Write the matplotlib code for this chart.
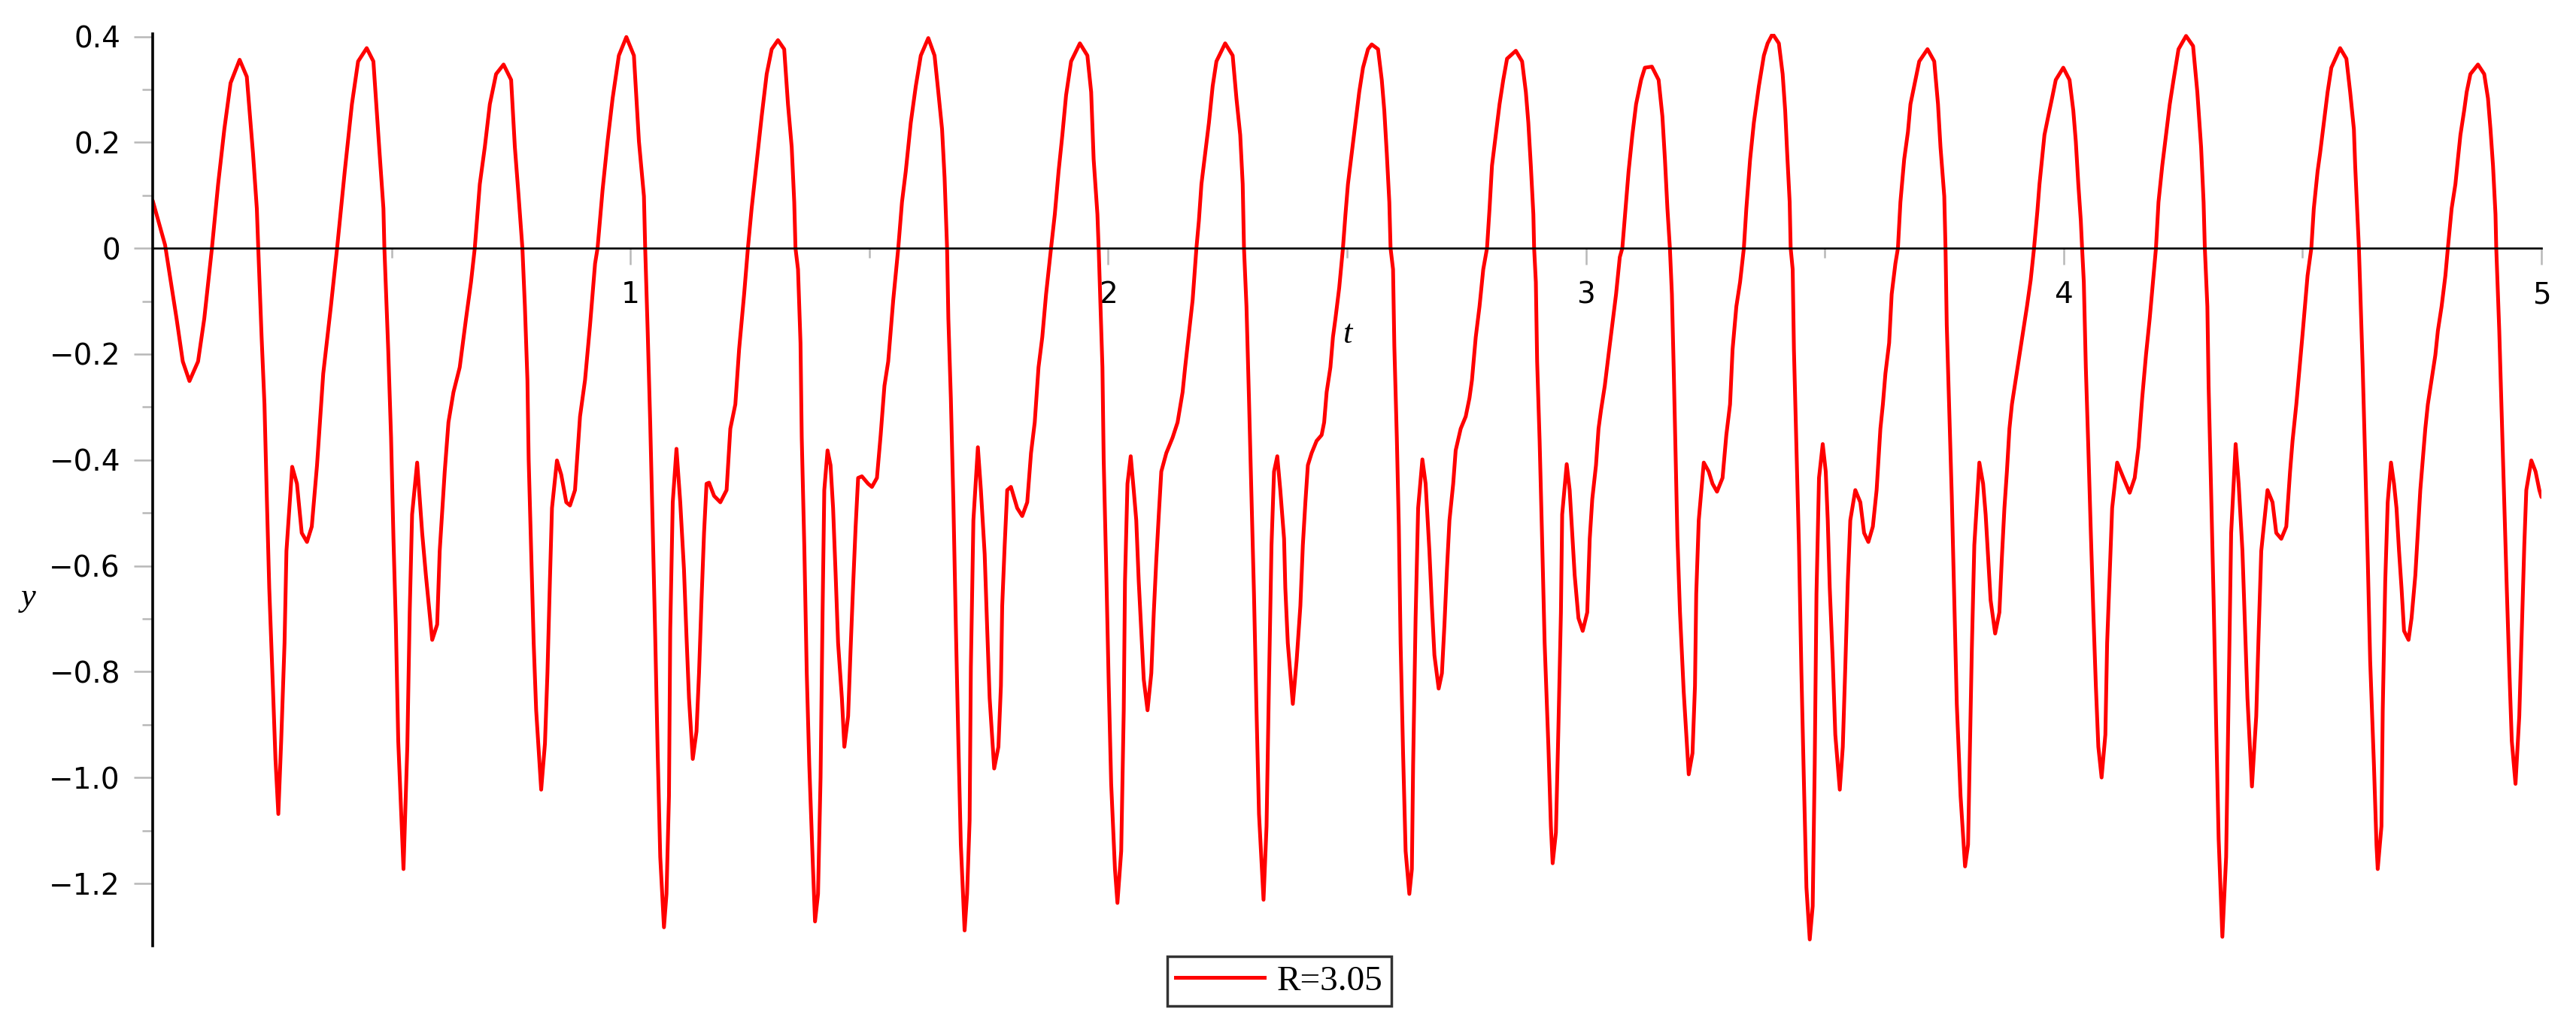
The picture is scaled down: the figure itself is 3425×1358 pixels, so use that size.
import matplotlib
matplotlib.use("Agg")
import matplotlib.pyplot as plt
from matplotlib.lines import Line2D

# ---- data ----
t_values = [
    0.000, 0.026, 0.050, 0.063, 0.077, 0.095, 0.108, 0.124, 0.137, 0.150, 0.163, 0.182, 0.197, 0.210, 0.218, 0.221,
    0.228, 0.234, 0.239, 0.244, 0.252, 0.257, 0.263, 0.269, 0.276, 0.280, 0.292, 0.302, 0.312, 0.323, 0.333, 0.344,
    0.357, 0.373, 0.386, 0.402, 0.417, 0.430, 0.448, 0.462, 0.475, 0.483, 0.485, 0.493, 0.499, 0.504, 0.509, 0.514,
    0.525, 0.533, 0.538, 0.543,
    0.5536, 0.5641, 0.5719, 0.5851, 0.5955, 0.6008, 0.6113, 0.6191, 0.6296, 0.6427, 0.6559, 0.6663, 0.6742, 0.6847,
    0.6952, 0.7057, 0.7188, 0.7345, 0.7503, 0.7581, 0.7660, 0.7739, 0.7791, 0.7844, 0.7870, 0.7922, 0.7975, 0.8027,
    0.8132, 0.8211, 0.8263, 0.8316, 0.8358, 0.8462, 0.8552, 0.8657, 0.8735, 0.8840, 0.8945, 0.9050, 0.9155, 0.9260,
    0.9312, 0.9417, 0.9522, 0.9627, 0.9758, 0.9915, 1.0073, 1.0178, 1.0283, 1.0309, 1.0361, 1.0414, 1.0466, 1.0519,
    1.0571, 1.0624, 1.0702, 1.0755, 1.0807, 1.0833, 1.0886, 1.0964, 1.1043,
    1.1121, 1.1174, 1.1226, 1.1305, 1.1383, 1.1436, 1.1488, 1.1541, 1.1593, 1.1646, 1.1751, 1.1882, 1.2013, 1.2091,
    1.2196, 1.2275, 1.2380, 1.2459, 1.2537, 1.2642, 1.2747, 1.2852, 1.2957, 1.3088, 1.3219, 1.3298, 1.3376, 1.3429,
    1.3455, 1.3508, 1.3560, 1.3586, 1.3639, 1.3691, 1.3744, 1.3822, 1.3864, 1.3927, 1.3980, 1.4022, 1.4058, 1.4126,
    1.4189, 1.4242, 1.4294, 1.4347, 1.4426, 1.4478, 1.4557, 1.4609, 1.4662, 1.4714, 1.4766, 1.4845, 1.4976, 1.5055,
    1.5160, 1.5238, 1.5317, 1.5396, 1.5501, 1.5606, 1.5684, 1.5763, 1.5868, 1.5973, 1.6078, 1.6235, 1.6366, 1.6445,
    1.6523, 1.6576, 1.6628, 1.6655, 1.6707, 1.6760,
    1.6811, 1.6864, 1.6916, 1.6995, 1.7047, 1.7100, 1.7126, 1.7179, 1.7273, 1.7336, 1.7415, 1.7467, 1.7519, 1.7614,
    1.7703, 1.7755, 1.7782, 1.7834, 1.7887, 1.7965, 1.8096, 1.8201, 1.8306, 1.8385, 1.8463, 1.8542, 1.8621, 1.8700,
    1.8804, 1.8883, 1.8962, 1.9041, 1.9119, 1.9224, 1.9408, 1.9565, 1.9644, 1.9696, 1.9775, 1.9801, 1.9827, 1.9880,
    1.9906, 1.9958, 2.0011, 2.0063, 2.0142, 2.0194, 2.0273, 2.0326, 2.0352, 2.0404, 2.0472, 2.0535, 2.0588, 2.0640,
    2.0693, 2.0745, 2.0824, 2.0903, 2.0955, 2.1007, 2.1060, 2.1112, 2.1217, 2.1348, 2.1453, 2.1558, 2.1611, 2.1689,
    2.1768, 2.1847, 2.1899, 2.1952, 2.2030, 2.2109, 2.2187, 2.2266,
    2.2449, 2.2606, 2.2685, 2.2764, 2.2816, 2.2843, 2.2895, 2.2947, 2.3000, 2.3052, 2.3105, 2.3157, 2.3252, 2.3315,
    2.3367, 2.3419, 2.3472, 2.3540, 2.3603, 2.3682, 2.3708, 2.3760, 2.3865, 2.3944, 2.4023, 2.4075, 2.4128, 2.4180,
    2.4259, 2.4363, 2.4468, 2.4521, 2.4573, 2.4652, 2.4705, 2.4757, 2.4836, 2.4914, 2.4967, 2.5019, 2.5098, 2.5177,
    2.5255, 2.5334, 2.5439, 2.5517, 2.5649, 2.5727, 2.5780, 2.5832, 2.5885, 2.5911, 2.5963, 2.5990, 2.6042, 2.6084,
    2.6121, 2.6173, 2.6226, 2.6304, 2.6357, 2.6383, 2.6435, 2.6488, 2.6577, 2.6645, 2.6724, 2.6776, 2.6829, 2.6918,
    2.6986, 2.7039, 2.7091, 2.7144, 2.7222, 2.7274, 2.7379, 2.7484, 2.7563, 2.7615, 2.7694, 2.7773, 2.7851, 2.7930,
    2.7983,
    2.8034, 2.8113, 2.8192, 2.8270, 2.8349, 2.8533, 2.8664, 2.8743, 2.8795, 2.8847, 2.8900, 2.8916, 2.8952, 2.8979,
    2.9031, 2.9083, 2.9136, 2.9215, 2.9267, 2.9304, 2.9372, 2.9424, 2.9477, 2.9503, 2.9598, 2.9660, 2.9713, 2.9765,
    2.9844, 2.9933, 3.0028, 3.0080, 3.0133, 3.0211, 3.0264, 3.0316, 3.0395, 3.0473, 3.0552, 3.0631, 3.0709, 3.0762,
    3.0841, 3.0893, 3.0972, 3.1050, 3.1155, 3.1234, 3.1381, 3.1522, 3.1601, 3.1654, 3.1706, 3.1758, 3.1800, 3.1837,
    3.1874, 3.1916, 3.1969, 3.2047, 3.2152, 3.2231, 3.2283, 3.2309, 3.2362, 3.2467, 3.2571, 3.2650, 3.2744, 3.2860,
    3.2939, 3.3017, 3.3070, 3.3149, 3.3227, 3.3306, 3.3358, 3.3437, 3.3515, 3.3620, 3.3725,
    3.3803, 3.3908, 3.4039, 3.4118, 3.4171, 3.4213, 3.4265, 3.4286, 3.4328, 3.4354, 3.4407, 3.4459, 3.4511, 3.4564,
    3.4616, 3.4685, 3.4747, 3.4789, 3.4826, 3.4879, 3.4957, 3.5020, 3.5062, 3.5104, 3.5167, 3.5220, 3.5314, 3.5377,
    3.5429, 3.5482, 3.5534, 3.5639, 3.5744, 3.5823, 3.5912, 3.6006, 3.6085, 3.6164, 3.6216, 3.6269, 3.6347, 3.6400,
    3.6478, 3.6531, 3.6583, 3.6662, 3.6741, 3.6793, 3.6898, 3.6977, 3.7150, 3.7291, 3.7370, 3.7422, 3.7501, 3.7527,
    3.7553, 3.7606, 3.7658, 3.7711, 3.7763, 3.7842, 3.7936, 3.7999, 3.8026, 3.8078, 3.8130, 3.8235, 3.8314, 3.8367,
    3.8419, 3.8471, 3.8566, 3.8655, 3.8707, 3.8760, 3.8812, 3.8865, 3.8917, 3.8996, 3.9075, 3.9153, 3.9232, 3.9310,
    3.9380, 3.9450,
    3.9494, 3.9546, 3.9598, 3.9677, 3.9756, 3.9835, 3.9992, 4.0123, 4.0202, 4.0254, 4.0307, 4.0359, 4.0386, 4.0422,
    4.0464, 4.0516, 4.0569, 4.0621, 4.0674, 4.0726, 4.0794, 4.0873, 4.0910, 4.0962, 4.1015, 4.1120, 4.1251, 4.1382,
    4.1487, 4.1566, 4.1644, 4.1723, 4.1801, 4.1880, 4.1932, 4.1985, 4.2064, 4.2142, 4.2221, 4.2300, 4.2404, 4.2562,
    4.2709, 4.2798, 4.2877, 4.2929, 4.2955, 4.3008, 4.3034, 4.3086, 4.3139, 4.3191, 4.3244, 4.3322, 4.3401, 4.3454,
    4.3506, 4.3600, 4.3663, 4.3742, 4.3794, 4.3847, 4.3941, 4.4031, 4.4083, 4.4136, 4.4267, 4.4372, 4.4450, 4.4555,
    4.4660, 4.4739, 4.4791, 4.4870, 4.4949, 4.5001,
    4.5105, 4.5184, 4.5236, 4.5315, 4.5367, 4.5446, 4.5525, 4.5603, 4.5787, 4.5918, 4.5997, 4.6075, 4.6102, 4.6154,
    4.6180, 4.6207, 4.6259, 4.6311, 4.6364, 4.6416, 4.6495, 4.6548, 4.6574, 4.6652, 4.6679, 4.6731, 4.6783, 4.6852,
    4.6915, 4.6967, 4.7020, 4.7072, 4.7125, 4.7219, 4.7282, 4.7361, 4.7413, 4.7465, 4.7518, 4.7570, 4.7623, 4.7701,
    4.7780, 4.7833, 4.7911, 4.7990, 4.8042, 4.8121, 4.8200, 4.8252, 4.8305, 4.8383, 4.8436, 4.8514, 4.8672, 4.8803,
    4.8882, 4.8934, 4.8987, 4.9039, 4.9055, 4.9118, 4.9170, 4.9223, 4.9275, 4.9327, 4.9380, 4.9458, 4.9537, 4.9590,
    4.9642, 4.9684, 4.9789, 4.9878, 4.9957, 5.0000,
]

y_values = [
    0.090, 0.006, -0.133, -0.214, -0.251, -0.214, -0.133, 0.000, 0.121, 0.225, 0.312, 0.356, 0.324, 0.179, 0.075, 0.000,
    -0.168, -0.295, -0.474, -0.642, -0.838, -0.965, -1.069, -0.931, -0.746, -0.572, -0.413, -0.445, -0.538, -0.555, -0.526, -0.410,
    -0.237, -0.110, 0.000, 0.145, 0.272, 0.353, 0.378, 0.353, 0.179, 0.075, 0.000, -0.191, -0.358, -0.549, -0.711, -0.931,
    -1.173, -0.942, -0.688, -0.503,
    -0.405, -0.538, -0.618, -0.740, -0.711, -0.572, -0.422, -0.329, -0.272, -0.225, -0.133, -0.064, 0.000, 0.121,
    0.191, 0.272, 0.329, 0.347, 0.318, 0.191, 0.098, 0.000, -0.110, -0.249, -0.399, -0.572, -0.746, -0.873,
    -1.023, -0.936, -0.803, -0.624, -0.491, -0.401, -0.428, -0.480, -0.486, -0.457, -0.318, -0.249, -0.145, -0.029,
    0.000, 0.110, 0.202, 0.283, 0.364, 0.399, 0.364, 0.202, 0.098, 0.000, -0.156, -0.329, -0.526, -0.734,
    -0.954, -1.150, -1.283, -1.220, -1.035, -0.723, -0.480, -0.379, -0.480,
    -0.607, -0.734, -0.850, -0.965, -0.913, -0.803, -0.665, -0.538, -0.445, -0.443, -0.468, -0.480, -0.457, -0.341,
    -0.295, -0.191, -0.087, 0.000, 0.075, 0.162, 0.249, 0.329, 0.376, 0.393, 0.376, 0.272, 0.191, 0.087,
    0.000, -0.040, -0.179, -0.358, -0.561, -0.803, -0.977, -1.173, -1.272, -1.220, -1.000, -0.688, -0.457, -0.382,
    -0.410, -0.491, -0.613, -0.746, -0.850, -0.942, -0.884, -0.757, -0.636, -0.526, -0.434, -0.431, -0.445, -0.451,
    -0.434, -0.353, -0.260, -0.214, -0.098, 0.000, 0.087, 0.145, 0.237, 0.306, 0.364, 0.397, 0.364, 0.295,
    0.225, 0.133, 0.000, -0.133, -0.283, -0.480,
    -0.711, -0.931, -1.127, -1.289, -1.220, -1.081, -0.792, -0.514, -0.376, -0.457, -0.578, -0.717, -0.850, -0.983,
    -0.942, -0.827, -0.676, -0.561, -0.457, -0.451, -0.491, -0.506, -0.480, -0.387, -0.329, -0.225, -0.168, -0.087,
    0.000, 0.064, 0.145, 0.214, 0.289, 0.353, 0.387, 0.364, 0.295, 0.168, 0.064, 0.000, -0.075, -0.225,
    -0.399, -0.601, -0.821, -1.012, -1.173, -1.237, -1.139, -0.873, -0.630, -0.445, -0.393, -0.457, -0.514, -0.630,
    -0.723, -0.815, -0.873, -0.803, -0.688, -0.590, -0.503, -0.422, -0.387, -0.358, -0.329, -0.272, -0.225, -0.162,
    -0.098, 0.000, 0.052, 0.121, 0.179, 0.237, 0.306, 0.353,
    0.387, 0.364, 0.283, 0.214, 0.121, 0.000, -0.110, -0.283, -0.468, -0.653, -0.873, -1.069, -1.231, -1.092,
    -0.815, -0.561, -0.422, -0.393, -0.457, -0.549, -0.642, -0.746, -0.861, -0.780, -0.676, -0.561, -0.480, -0.410,
    -0.387, -0.364, -0.353, -0.329, -0.272, -0.225, -0.168, -0.133, -0.075, 0.000, 0.064, 0.121, 0.179, 0.237,
    0.295, 0.341, 0.376, 0.385, 0.376, 0.318, 0.260, 0.179, 0.087, 0.000, -0.040, -0.185, -0.358, -0.526,
    -0.746, -0.954, -1.139, -1.220, -1.173, -0.977, -0.699, -0.491, -0.399, -0.445, -0.572, -0.676, -0.769, -0.832,
    -0.803, -0.711, -0.607, -0.514, -0.445, -0.382, -0.341, -0.318, -0.283, -0.249, -0.168, -0.110, -0.040, 0.000,
    0.075,
    0.156, 0.214, 0.272, 0.318, 0.358, 0.373, 0.353, 0.295, 0.237, 0.156, 0.064, 0.000, -0.064, -0.214,
    -0.364, -0.549, -0.746, -0.942, -1.092, -1.162, -1.104, -0.908, -0.688, -0.503, -0.408, -0.457, -0.538, -0.618,
    -0.699, -0.723, -0.688, -0.549, -0.474, -0.410, -0.341, -0.306, -0.260, -0.202, -0.145, -0.087, -0.017, 0.000,
    0.087, 0.145, 0.214, 0.272, 0.318, 0.341, 0.343, 0.318, 0.249, 0.168, 0.075, 0.000, -0.087, -0.225,
    -0.376, -0.549, -0.688, -0.838, -0.994, -0.954, -0.827, -0.653, -0.514, -0.405, -0.422, -0.445, -0.460, -0.434,
    -0.353, -0.295, -0.191, -0.110, -0.064, 0.000, 0.075, 0.168, 0.237, 0.306, 0.364,
    0.387, 0.405, 0.387, 0.329, 0.260, 0.179, 0.087, 0.000, -0.040, -0.191, -0.376, -0.561, -0.803, -1.012,
    -1.208, -1.306, -1.243, -0.977, -0.653, -0.434, -0.370, -0.422, -0.514, -0.642, -0.780, -0.919, -1.023, -0.942,
    -0.792, -0.630, -0.514, -0.457, -0.480, -0.538, -0.555, -0.526, -0.457, -0.341, -0.295, -0.237, -0.179, -0.087,
    -0.029, 0.000, 0.087, 0.168, 0.220, 0.272, 0.318, 0.353, 0.376, 0.353, 0.272, 0.191, 0.098, 0.000,
    -0.145, -0.306, -0.468, -0.665, -0.861, -1.035, -1.168, -1.127, -1.000, -0.757, -0.561, -0.405, -0.445, -0.503,
    -0.584, -0.665, -0.728, -0.688, -0.584, -0.491, -0.422, -0.341, -0.295, -0.249, -0.202, -0.156, -0.110, -0.060,
    0.000, 0.070,
    0.121, 0.168, 0.214, 0.249, 0.283, 0.318, 0.341, 0.318, 0.260, 0.202, 0.121, 0.052, 0.000, -0.064,
    -0.225, -0.376, -0.538, -0.688, -0.827, -0.942, -1.000, -0.919, -0.746, -0.618, -0.491, -0.405, -0.434, -0.462,
    -0.434, -0.376, -0.283, -0.202, -0.133, -0.052, 0.000, 0.087, 0.156, 0.214, 0.272, 0.318, 0.376, 0.401,
    0.382, 0.295, 0.191, 0.087, 0.000, -0.110, -0.260, -0.457, -0.665, -0.896, -1.116, -1.301, -1.150, -0.838,
    -0.538, -0.370, -0.445, -0.572, -0.711, -0.850, -1.017, -0.884, -0.723, -0.572, -0.457, -0.480, -0.538, -0.549,
    -0.526, -0.422, -0.364, -0.295, -0.214, -0.162,
    -0.052, 0.000, 0.075, 0.145, 0.179, 0.237, 0.295, 0.341, 0.378, 0.358, 0.295, 0.225, 0.156, 0.052,
    0.000, -0.075, -0.225, -0.399, -0.584, -0.780, -0.977, -1.127, -1.173, -1.092, -0.873, -0.630, -0.480, -0.405,
    -0.445, -0.491, -0.572, -0.642, -0.723, -0.740, -0.699, -0.618, -0.538, -0.457, -0.399, -0.341, -0.295, -0.249,
    -0.202, -0.156, -0.110, -0.052, 0.000, 0.075, 0.121, 0.168, 0.214, 0.260, 0.295, 0.329, 0.347, 0.329,
    0.283, 0.225, 0.156, 0.064, 0.000, -0.156, -0.318, -0.480, -0.642, -0.792, -0.931, -1.012, -0.884, -0.723,
    -0.561, -0.457, -0.401, -0.422, -0.457, -0.470,
]

x_ticks = [1, 2, 3, 4, 5]
x_tick_labels = ["1", "2", "3", "4", "5"]
x_minor_ticks = [0.5, 1.5, 2.5, 3.5, 4.5]
y_ticks = [0.4, 0.2, 0.0, -0.2, -0.4, -0.6, -0.8, -1.0, -1.2]
y_tick_labels = ["0.4", "0.2", "0", "\u22120.2", "\u22120.4", "\u22120.6", "\u22120.8", "\u22121.0", "\u22121.2"]
y_minor_ticks = [0.3, 0.1, -0.1, -0.3, -0.5, -0.7, -0.9, -1.1]
series_label = "R=3.05"

# ---- figure ----
W, H = 3425, 1358
fig = plt.figure(figsize=(W / 100, H / 100), dpi=100)
ax = fig.add_axes([203 / W, 1 - 1258 / H, (3379 - 203) / W, (1258 - 45) / H])

line, = ax.plot(t_values, y_values, color="#ff0000", lw=3.6, solid_joinstyle="round",
                solid_capstyle="round", label=series_label)

ax.set_xlim(0, 5)
ax.set_ylim(-1.318, 0.405)

for s in ["top", "right"]:
    ax.spines[s].set_visible(False)
ax.spines["bottom"].set_position(("data", 0))
ax.spines["bottom"].set_linewidth(1.9)
ax.spines["left"].set_linewidth(2.6)
ax.spines["bottom"].set_color("black")
ax.spines["left"].set_color("black")

ax.set_xticks(x_ticks)
ax.set_xticklabels(x_tick_labels)
ax.set_xticks(x_minor_ticks, minor=True)
ax.set_yticks(y_ticks)
ax.set_yticklabels(y_tick_labels)
ax.set_yticks(y_minor_ticks, minor=True)

tick_grey = "#b8b8b8"
ax.tick_params(axis="x", which="major", direction="out", length=16, width=1.8,
               color=tick_grey, labelsize=28, pad=15, labelcolor="black")
ax.tick_params(axis="x", which="minor", direction="out", length=9, width=1.8, color=tick_grey)
ax.tick_params(axis="y", which="major", direction="out", length=18, width=1.8,
               color=tick_grey, labelsize=28, pad=13, labelcolor="black")
ax.tick_params(axis="y", which="minor", direction="out", length=10, width=1.8, color=tick_grey)

# axis labels
ax.text(2.5, -0.163, "t", fontsize=32, fontstyle="italic", family="Liberation Serif",
        ha="center", va="center")
fig.text(38 / W, 1 - 795 / H, "y", fontsize=32, fontstyle="italic", family="Liberation Serif",
         ha="center", va="center")

leg = fig.legend(handles=[Line2D([0], [0], color="#ff0000", lw=3.6)], labels=[series_label],
                 loc="center", bbox_to_anchor=(1701 / W, 1 - 1305 / H),
                 prop={"family": "Liberation Serif", "size": 34},
                 frameon=True, fancybox=False, shadow=False, handlelength=2.5,
                 handletextpad=0.35, borderpad=0.25, borderaxespad=0)
leg.get_frame().set_edgecolor("black")
leg.get_frame().set_linewidth(2.5)

fig.savefig("out.png", dpi=100, facecolor="white")
